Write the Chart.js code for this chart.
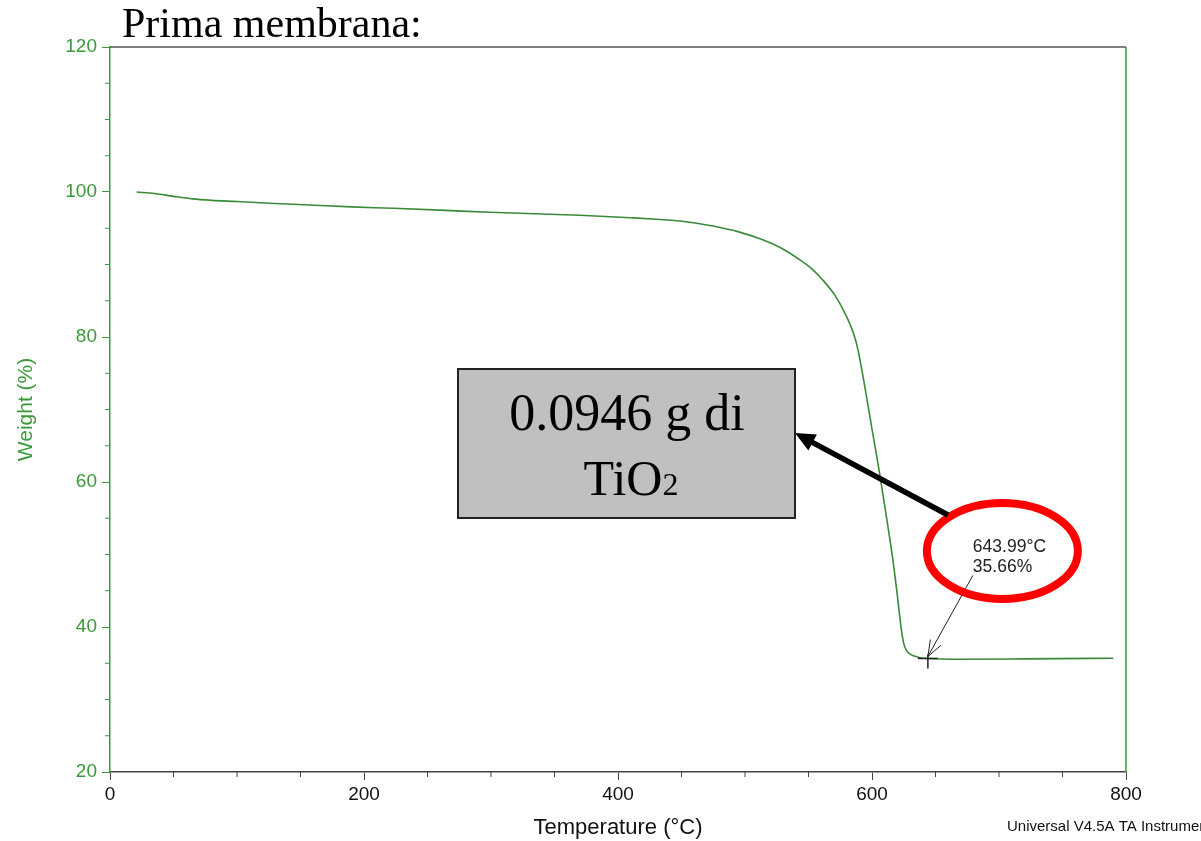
<!DOCTYPE html>
<html>
<head>
<meta charset="utf-8">
<title>Prima membrana - TGA</title>
<script src="https://cdn.jsdelivr.net/npm/chart.js@4.4.7/dist/chart.umd.min.js"></script>
<style>
  html, body { margin: 0; padding: 0; background: #fff; }
  canvas { display: block; }
</style>
</head>
<body>
<canvas id="tgaChart" width="1201" height="841"></canvas>
<script>
// TGA curve: temperature (°C) and weight (%)
const temps = [21, 35, 50, 65, 80, 100, 125, 157, 190, 223, 260, 299, 335, 370, 410, 430, 449,
  462, 475, 495, 514, 528, 541, 552, 561, 571, 580, 586, 589, 594, 600, 606, 611, 616, 620, 623,
  625, 627, 630, 634, 638, 644, 669, 720, 790];
const weights = [100.0, 99.8, 99.4, 99.05, 98.85, 98.68, 98.45, 98.2, 97.95, 97.75, 97.5, 97.2,
  97.0, 96.8, 96.45, 96.25, 96.0, 95.7, 95.3, 94.5, 93.4, 92.3, 90.9, 89.5, 87.9, 85.7, 82.8, 80.2,
  78.2, 73.5, 67.3, 61.2, 55.6, 49.8, 44.3, 39.8, 37.7, 36.8, 36.25, 35.95, 35.77, 35.66, 35.55,
  35.6, 35.7];

const xTicks = [0, 200, 400, 600, 800];
const yTicks = [20, 40, 60, 80, 100, 120];
const xMinorStep = 50;
const yMinorStep = 5;

const marker = { t: 643.99, w: 35.66 };
const markerLabel = ['643.99°C', '35.66%'];
const boxLines = ['0.0946 g di', 'TiO', '2'];

const SANS = 'Arial, "Liberation Sans", sans-serif';
const SERIF = '"Times New Roman", "Liberation Serif", serif';
const green = '#3a9a3a';
const curveGreen = '#3a8a3a';
const dark = '#444';

function line(ctx, x1, y1, x2, y2) {
  ctx.beginPath();
  ctx.moveTo(x1, y1);
  ctx.lineTo(x2, y2);
  ctx.stroke();
}

// frame on top/right, minor ticks, page texts
const axisExtras = {
  id: 'axisExtras',
  afterDraw(chart) {
    const { ctx, chartArea: a, scales: { x, y } } = chart;
    ctx.save();
    ctx.lineWidth = 1.5;
    ctx.strokeStyle = '#555';
    line(ctx, a.left, a.top, a.right, a.top);
    ctx.strokeStyle = green;
    line(ctx, a.right, a.top, a.right, a.bottom);

    ctx.lineWidth = 1;
    for (let v = y.min; v <= y.max; v += yMinorStep) {
      if (yTicks.includes(v)) continue;
      const py = y.getPixelForValue(v);
      line(ctx, a.left - 5, py, a.left, py);
    }
    ctx.strokeStyle = dark;
    for (let v = x.min; v <= x.max; v += xMinorStep) {
      if (xTicks.includes(v)) continue;
      const px = x.getPixelForValue(v);
      line(ctx, px, a.bottom, px, a.bottom + 5);
    }

    ctx.fillStyle = '#000';
    ctx.textAlign = 'left';
    ctx.textBaseline = 'alphabetic';
    ctx.font = '42px ' + SERIF;
    ctx.fillText('Prima membrana:', 122, 37);

    ctx.fillStyle = '#111';
    ctx.font = '15px ' + SANS;
    ctx.fillText('Universal V4.5A TA Instruments', 1007, 831);
    ctx.restore();
  }
};

function arrowHead(ctx, fromX, fromY, toX, toY, len, half, filled) {
  const ang = Math.atan2(toY - fromY, toX - fromX);
  const bx = toX - len * Math.cos(ang), by = toY - len * Math.sin(ang);
  const nx = -Math.sin(ang) * half, ny = Math.cos(ang) * half;
  ctx.beginPath();
  ctx.moveTo(bx + nx, by + ny);
  ctx.lineTo(toX, toY);
  ctx.lineTo(bx - nx, by - ny);
  if (filled) { ctx.closePath(); ctx.fill(); } else { ctx.stroke(); }
}

// marker, callout, red ellipse and TiO2 box
const notes = {
  id: 'notes',
  afterDatasetsDraw(chart) {
    const { ctx, scales: { x, y } } = chart;
    const mx = x.getPixelForValue(marker.t);
    const my = y.getPixelForValue(marker.w);
    ctx.save();

    ctx.strokeStyle = '#222';
    ctx.lineWidth = 1.5;
    line(ctx, mx - 10, my, mx + 10, my);
    line(ctx, mx, my - 4, mx, my + 10);

    ctx.lineWidth = 1;
    const sx = mx + 45, sy = my - 83;
    line(ctx, sx, sy, mx, my - 2);
    arrowHead(ctx, sx, sy, mx, my - 2, 16, 6, false);

    ctx.fillStyle = '#222';
    ctx.font = '17.5px ' + SANS;
    ctx.textAlign = 'left';
    ctx.fillText(markerLabel[0], mx + 45, my - 106);
    ctx.fillText(markerLabel[1], mx + 45, my - 86);

    ctx.strokeStyle = '#ff0000';
    ctx.lineWidth = 8;
    ctx.beginPath();
    ctx.ellipse(mx + 74.5, my - 107.5, 75.5, 48, 0, 0, Math.PI * 2);
    ctx.stroke();

    // big arrow to the box
    const ax = 948, ay = 515, tx = 795, ty = 433;
    const ang = Math.atan2(ty - ay, tx - ax);
    ctx.strokeStyle = '#000';
    ctx.fillStyle = '#000';
    ctx.lineWidth = 5.5;
    line(ctx, ax, ay, tx - 16 * Math.cos(ang), ty - 16 * Math.sin(ang));
    arrowHead(ctx, ax, ay, tx, ty, 20, 9, true);

    ctx.fillStyle = '#c0c0c0';
    ctx.fillRect(458, 369, 337, 149);
    ctx.strokeStyle = '#222';
    ctx.lineWidth = 2;
    ctx.strokeRect(458, 369, 337, 149);

    ctx.fillStyle = '#000';
    ctx.font = '52px ' + SERIF;
    ctx.textAlign = 'center';
    ctx.fillText(boxLines[0], 627, 430);
    ctx.textAlign = 'left';
    ctx.font = '50px ' + SERIF;
    const w1 = ctx.measureText(boxLines[1]).width;
    ctx.font = '32px ' + SERIF;
    const w2 = ctx.measureText(boxLines[2]).width;
    const left = 631 - (w1 + w2) / 2;
    ctx.font = '50px ' + SERIF;
    ctx.fillText(boxLines[1], left, 495);
    ctx.font = '32px ' + SERIF;
    ctx.fillText(boxLines[2], left + w1, 495);
    ctx.restore();
  }
};

new Chart(document.getElementById('tgaChart').getContext('2d'), {
  type: 'line',
  data: {
    datasets: [{
      label: 'Weight',
      data: temps.map((t, i) => ({ x: t, y: weights[i] })),
      borderColor: curveGreen,
      borderWidth: 1.6,
      pointRadius: 0,
      fill: false,
      cubicInterpolationMode: 'monotone',
    }],
  },
  options: {
    responsive: false,
    animation: false,
    devicePixelRatio: 1,
    layout: { autoPadding: false, padding: { left: 0, top: 47, right: 75, bottom: 0 } },
    plugins: { legend: { display: false }, tooltip: { enabled: false } },
    scales: {
      x: {
        type: 'linear',
        min: 0,
        max: 800,
        afterBuildTicks: (s) => { s.ticks = xTicks.map(v => ({ value: v })); },
        afterFit: (s) => { s.height = 69; },
        grid: { drawOnChartArea: false, tickLength: 8, tickColor: dark, tickWidth: 1 },
        border: { color: dark, width: 1.5 },
        ticks: { color: '#111', padding: 3, maxRotation: 0, autoSkip: false, font: { family: SANS, size: 19 } },
        title: { display: true, text: 'Temperature (°C)', color: '#111', padding: { top: 0, bottom: 0 }, font: { family: SANS, size: 22 } },
      },
      y: {
        min: 20,
        max: 120,
        afterBuildTicks: (s) => { s.ticks = yTicks.map(v => ({ value: v })); },
        afterFit: (s) => { s.width = 110; },
        grid: { drawOnChartArea: false, tickLength: 8, tickColor: green, tickWidth: 1 },
        border: { color: green, width: 1.5 },
        ticks: { color: green, padding: 5, font: { family: SANS, size: 19 } },
        title: { display: true, text: 'Weight (%)', color: green, padding: { top: 14, bottom: 0 }, font: { family: SANS, size: 21 } },
      },
    },
  },
  plugins: [axisExtras, notes],
});
</script>
</body>
</html>
